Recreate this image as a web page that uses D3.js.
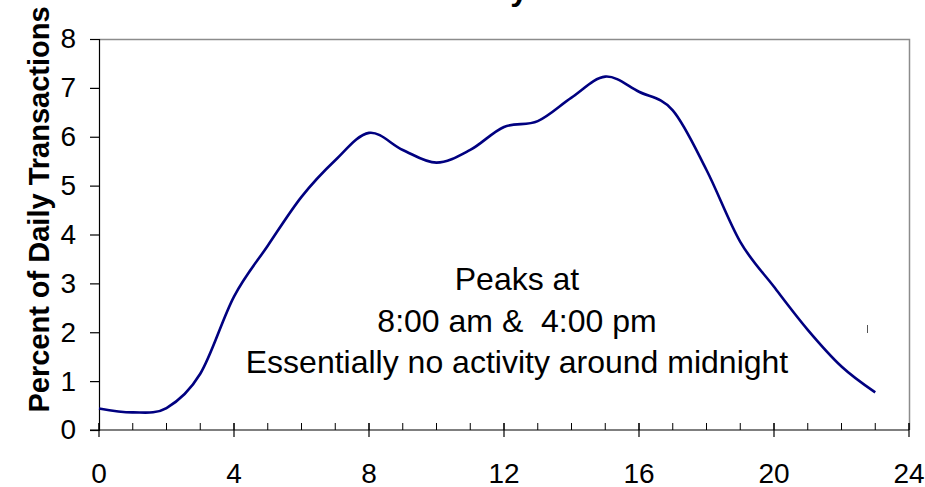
<!DOCTYPE html>
<html>
<head>
<meta charset="utf-8">
<script src="https://cdn.jsdelivr.net/npm/d3@7/dist/d3.min.js"></script>
<style>
  html, body { margin: 0; padding: 0; background: #fff; }
  svg { display: block; font-family: Arial, "Liberation Sans", sans-serif; }
</style>
</head>
<body>
<svg id="chart" width="925" height="487"></svg>
<script>
// Hour of day (0-23) and share of the day's transactions in each hour (%)
const hours = [0, 1, 2, 3, 4, 5, 6, 7, 8, 9, 10, 11, 12, 13, 14, 15, 16, 17, 18, 19, 20, 21, 22, 23];
const percentOfDaily = [0.44, 0.36, 0.45, 1.15, 2.73, 3.77, 4.77, 5.52, 6.08, 5.73, 5.47, 5.73,
                        6.20, 6.32, 6.80, 7.23, 6.92, 6.54, 5.32, 3.85, 2.93, 2.05, 1.30, 0.77];
const xTickValues = [0, 4, 8, 12, 16, 20, 24];
const yTickValues = [0, 1, 2, 3, 4, 5, 6, 7, 8];
const titleText = "Transactions by Hour";
const yAxisTitle = "Percent of Daily Transactions";
const noteLines = ["Peaks at", "8:00 am &  4:00 pm", "Essentially no activity around midnight"];

const svg = d3.select("#chart");
const plot = { left: 99, right: 909, top: 39, bottom: 430 };

const x = d3.scaleLinear().domain([0, 24]).range([plot.left, plot.right]);
const y = d3.scaleLinear().domain([0, 8]).range([plot.bottom, plot.top]);

// Title (sits above the top edge; only its descender reaches into view)
svg.append("text")
  .attr("x", 448).attr("y", 0)
  .attr("text-anchor", "middle")
  .attr("font-size", 32).attr("font-weight", "bold")
  .text(titleText);

// Plot frame: light top and right edges
svg.append("path")
  .attr("d", `M${plot.left},${plot.top + 0.5}H${plot.right + 0.5}V${plot.bottom}`)
  .attr("fill", "none").attr("stroke", "#8c8c8c").attr("stroke-width", 1.5);

// Y axis
const yAxis = svg.append("g").attr("transform", `translate(${plot.left},0)`)
  .call(d3.axisLeft(y).tickValues(yTickValues).tickSize(9).tickPadding(14).tickFormat(d3.format("d")));
yAxis.select(".domain").attr("stroke", "#000").attr("stroke-width", 1.2);
yAxis.selectAll(".tick line").attr("stroke", "#000").attr("stroke-width", 1.2);
yAxis.selectAll("text").attr("font-size", 28).attr("font-family", "Arial, 'Liberation Sans', sans-serif").attr("fill", "#000");

// X axis: minor hourly ticks inside, major ticks crossing the axis
const xAxis = svg.append("g").attr("transform", `translate(0,${plot.bottom})`);
xAxis.append("line")
  .attr("x1", plot.left - 9).attr("x2", plot.right)
  .attr("stroke", "#000").attr("stroke-width", 1.2);
xAxis.selectAll("line.minor")
  .data(d3.range(0, 25))
  .join("line").attr("class", "minor")
  .attr("x1", d => x(d)).attr("x2", d => x(d))
  .attr("y1", -7).attr("y2", 0)
  .attr("stroke", "#000").attr("stroke-width", 1);
xAxis.selectAll("line.major")
  .data(xTickValues)
  .join("line").attr("class", "major")
  .attr("x1", d => x(d)).attr("x2", d => x(d))
  .attr("y1", -7).attr("y2", 7)
  .attr("stroke", "#000").attr("stroke-width", 1.2);
xAxis.selectAll("text.label")
  .data(xTickValues)
  .join("text").attr("class", "label")
  .attr("x", d => x(d)).attr("y", 53)
  .attr("text-anchor", "middle")
  .attr("font-size", 28)
  .text(d => d);

// Y axis title
svg.append("text")
  .attr("transform", `translate(49,${(plot.top + plot.bottom) / 2 - 25}) rotate(-90)`)
  .attr("text-anchor", "middle")
  .attr("font-size", 29).attr("font-weight", "bold")
  .text(yAxisTitle);

// Smoothed series line
const line = d3.line()
  .x((d, i) => x(hours[i]))
  .y(d => y(d))
  .curve(d3.curveCardinal.tension(0));
svg.append("path")
  .datum(percentOfDaily)
  .attr("d", line)
  .attr("fill", "none")
  .attr("stroke", "#000080")
  .attr("stroke-width", 2.6)
  .attr("stroke-linejoin", "round");

// Annotation
const note = svg.append("text")
  .attr("text-anchor", "middle")
  .attr("font-size", 32)
  .attr("xml:space", "preserve")
  .style("white-space", "pre");
noteLines.forEach((t, i) => {
  note.append("tspan").attr("x", 517).attr("y", 290 + i * 41.5).text(t);
});

// Small stray tick mark inside the plot
svg.append("line")
  .attr("x1", 867.5).attr("x2", 867.5).attr("y1", 325).attr("y2", 333)
  .attr("stroke", "#555").attr("stroke-width", 1);
</script>
</body>
</html>
